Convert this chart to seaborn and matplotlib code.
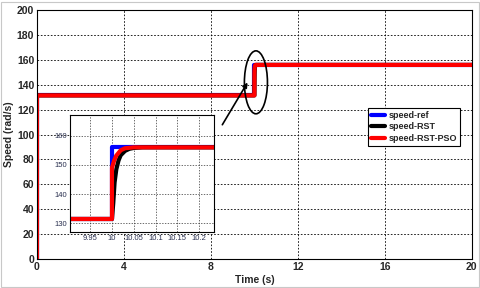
import matplotlib
matplotlib.use("Agg")
import matplotlib.pyplot as plt
import seaborn as sns
import pandas as pd
from matplotlib.patches import Ellipse, Rectangle

sns.set_style("white")
plt.rcParams['font.family'] = ['Liberation Sans', 'DejaVu Sans']

# ---- data ----
t_ref = [0, 0, 10, 10, 20]
speed_ref = [0, 131.5, 131.5, 156, 156]

t_rst = [0, 0, 10, 10.003, 10.006, 10.01, 10.015, 10.02, 10.03, 10.04, 10.05, 10.07, 20]
speed_rst = [0, 131.5, 131.5, 137, 144, 148.5, 151.5, 153.3, 154.8, 155.5, 155.8, 156, 156]

t_pso = [0, 0, 10, 10, 10.005, 10.01, 10.02, 10.03, 10.05, 20]
speed_pso = [0, 131.5, 131.5, 149, 151.5, 153.2, 155, 155.7, 156, 156]

x_ticks = [0, 4, 8, 12, 16, 20]
y_ticks = [0, 20, 40, 60, 80, 100, 120, 140, 160, 180, 200]
ix_ticks = [9.95, 10, 10.05, 10.1, 10.15, 10.2]
ix_labels = ["9.95", "10", "10.05", "10.1", "10.15", "10.2"]
iy_ticks = [130, 140, 150, 160]

series = [("speed-ref", t_ref, speed_ref, "#0000ff"),
          ("speed-RST", t_rst, speed_rst, "#000000"),
          ("speed-RST-PSO", t_pso, speed_pso, "#ff0000")]

fig = plt.figure(figsize=(4.8, 2.88), dpi=100)
ax = fig.add_axes([0.077, 0.1007, 0.906, 0.864])

def draw(a, lw):
    for name, t, v, c in series:
        df = pd.DataFrame({"t": t, "v": v})
        sns.lineplot(data=df, x="t", y="v", ax=a, color=c, lw=lw, sort=False,
                     estimator=None, label=name)

draw(ax, 3.0)
ax.set_xlim(0, 20)
ax.set_ylim(0, 200)
ax.set_xticks(x_ticks)
ax.set_yticks(y_ticks)
ax.tick_params(labelsize=7.5, direction="in", length=2, pad=2)
for lab in ax.get_xticklabels() + ax.get_yticklabels():
    lab.set_fontweight("bold")
ax.grid(True, color="black", linestyle=(0, (2, 2)), linewidth=0.6)
for s in ax.spines.values():
    s.set_color("black"); s.set_linewidth(0.8)
ax.set_xlabel("Time (s)", fontsize=7.5, fontweight="bold", labelpad=2)
ax.set_ylabel("Speed (rad/s)", fontsize=7.5, fontweight="bold", labelpad=2)

leg = ax.legend(loc="upper left", bbox_to_anchor=(0.767, 0.625),
                bbox_transform=fig.transFigure, fontsize=6.5, frameon=True,
                fancybox=False, framealpha=1, edgecolor="black",
                handlelength=1.6, borderpad=0.3, labelspacing=0.3,
                handletextpad=0.4, borderaxespad=0)
leg.get_frame().set_linewidth(0.8)
for txt in leg.get_texts():
    txt.set_fontweight("bold")

# ellipse and arrow
ax.add_patch(Ellipse((10.07, 142), 1.06, 50.6, fill=False, edgecolor="black", lw=1.2, zorder=5))
ax.annotate("", xy=(9.75, 143.8), xytext=(8.46, 106),
            arrowprops=dict(arrowstyle="-|>", color="black", lw=1.2, mutation_scale=7))

# inset
ins = fig.add_axes([0.146, 0.194, 0.3, 0.406])
draw(ins, 3.0)
ins.get_legend().remove()
ins.set_xlim(9.904, 10.234)
ins.set_ylim(127, 167)
ins.set_xticks(ix_ticks)
ins.set_xticklabels(ix_labels)
ins.set_yticks(iy_ticks)
ins.tick_params(labelsize=5.5, direction="in", length=0, pad=2, labelcolor="#2a3050")
ins.grid(True, color="#333333", linestyle=(0, (2, 2)), linewidth=0.5)
ins.set_xlabel(""); ins.set_ylabel("")
ins.set_facecolor("white")
for s in ins.spines.values():
    s.set_color("black"); s.set_linewidth(0.8)

fig.patches.append(Rectangle((0.002, 0.002), 0.995, 0.99, transform=fig.transFigure,
                             fill=False, edgecolor="#c8c8c8", lw=0.8))

fig.savefig("out.png", dpi=100)
